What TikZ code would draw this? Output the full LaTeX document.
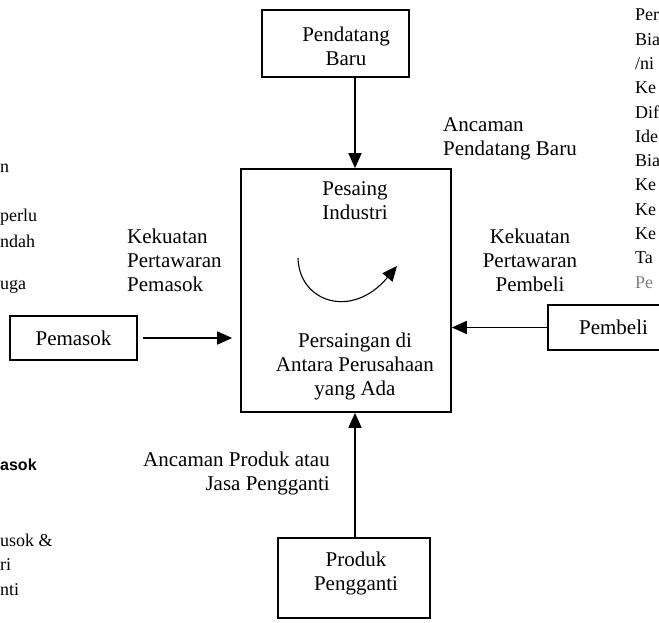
\documentclass[tikz,border=0pt]{standalone}
\usepackage{fontspec}
\setmainfont{Liberation Serif}
\setsansfont{Liberation Sans}
\usetikzlibrary{arrows.meta}
\begin{document}
\begin{tikzpicture}[x=1pt,y=-1pt,
  box/.style={draw, line width=1.7pt, inner sep=0pt, font=\fontsize{21}{24}\selectfont},
  txt/.style={font=\fontsize{21}{24}\selectfont, align=center, inner sep=0pt},
  arr/.style={line width=1.7pt, -{Triangle[length=15pt,width=13pt]}},
  frag/.style={font=\fontsize{18}{22}\selectfont, inner sep=0pt}]
\useasboundingbox (0,0) rectangle (659,623);
\clip (0,0) rectangle (659,623);
% boxes
\node[box, minimum width=147pt, minimum height=67pt] (pb) at (335.5,43.5) {};
\node[txt] (pbt) at (346,46) {Pendatang\\Baru};
\node[box, minimum width=210pt, minimum height=243pt] (ind) at (346,290.5) {};
\node[txt] (indt) at (355,201) {Pesaing\\Industri};
\node[txt] (rival) at (355,366) {Persaingan di\\Antara Perusahaan\\yang Ada};
\node[box, minimum width=127pt, minimum height=44pt] (pm) at (73.5,338) {Pemasok};
\node[box, minimum width=131pt, minimum height=45pt] (pe) at (613.5,327.5) {Pembeli};
\node[box, minimum width=152pt, minimum height=80pt] (pp) at (354,578) {};
\node[txt] (ppt) at (356,573) {Produk\\Pengganti};
% arrows
\coordinate (ax) at (355,0);
\draw[arr] (pb.south -| ax) -- (ind.north -| ax);
\draw[arr] (pp.north -| ax) -- (ind.south -| ax);
\draw[arr, shorten <=5pt, shorten >=8pt] (pm.east) -- (ind.west |- pm.east);
\draw[arr] (pe.west) -- (ind.east |- pe.west);
\draw[line width=1.1pt, -{Triangle[length=15pt,width=13pt]}] (298,258) .. controls (299,302) and (352,320) .. (397,266);
% labels
\node[txt, anchor=west, align=left] (kpm) at (127,260) {Kekuatan\\Pertawaran\\Pemasok};
\node[txt] (kpb) at (530,260) {Kekuatan\\Pertawaran\\Pembeli};
\node[txt, anchor=west, align=left] (apb) at (443,139) {Ancaman\\Pendatang Baru};
\node[txt, anchor=east, align=right] (aps) at (330,473) {Ancaman Produk atau\\Jasa Pengganti};
% fragments of text at the left edge
\node[frag, anchor=west] (l1) at (0,168) {n};
\node[frag, anchor=west] (l2) at (0,217) {perlu};
\node[frag, anchor=west] (l3) at (0,241) {ndah};
\node[frag, anchor=west] (l4) at (0,287) {uga};
\node[frag, anchor=west, font=\sffamily\bfseries\fontsize{16}{20}\selectfont] (l5) at (0,465) {asok};
\node[frag, anchor=west] (l6) at (0,540) {usok \&};
\node[frag, anchor=west] (l7) at (0,565) {ri};
\node[frag, anchor=west] (l8) at (0,590) {nti};
% fragments of text at the right edge
\foreach \t [count=\i from 0] in {Per,Bia,/ni,Ke,Dif,Ide,Bia,Ke,Ke,Ke,Ta}
  \node[frag, anchor=west] (r\i) at (635,{15+24.3*\i}) {\t};
\node[frag, anchor=west, text=gray] (r11) at (635,283) {Pe};
\end{tikzpicture}
\end{document}
